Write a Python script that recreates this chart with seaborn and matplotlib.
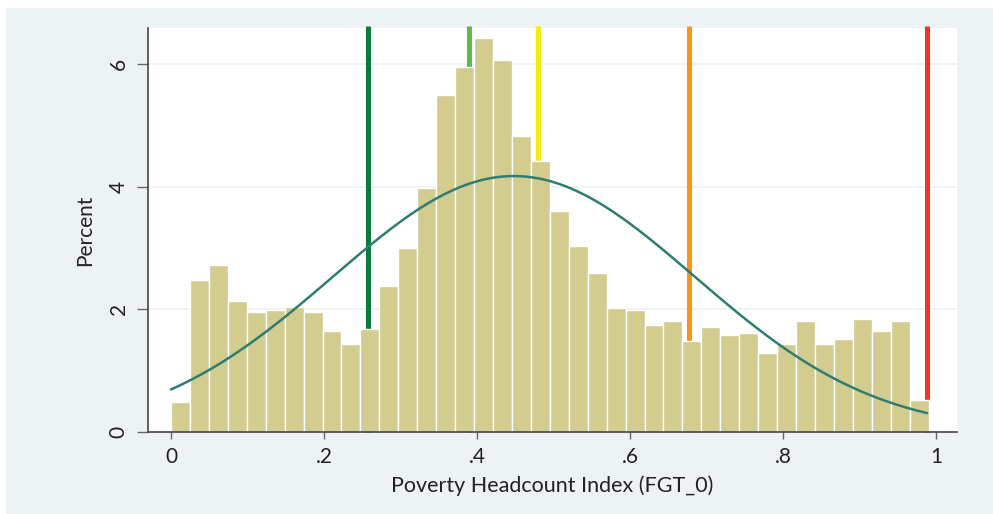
import numpy as np
import pandas as pd
import matplotlib
matplotlib.use("Agg")
import matplotlib.pyplot as plt
import seaborn as sns
from matplotlib.patches import Rectangle

# ---- data ----
bin_width = 0.02475
n_bins = 40
percent = [0.49, 2.48, 2.72, 2.14, 1.96, 1.99, 2.04, 1.96, 1.65, 1.44,
           1.68, 2.38, 3.00, 3.98, 5.50, 5.95, 6.43, 6.07, 4.83, 4.42,
           3.61, 3.03, 2.59, 2.02, 1.99, 1.75, 1.81, 1.48, 1.71, 1.58,
           1.61, 1.29, 1.44, 1.81, 1.44, 1.52, 1.84, 1.65, 1.81, 0.52]
threshold_x = [0.258, 0.389, 0.480, 0.677, 0.988]
threshold_colors = ["#0b7a3c", "#5cbd46", "#f6ea14", "#f7931e", "#ec3626"]
norm_mean = 0.448
norm_sd = 0.2365
data_min, data_max = 0.0, 0.988
xticks = [0, 0.2, 0.4, 0.6, 0.8, 1.0]
xtick_labels = ["0", ".2", ".4", ".6", ".8", "1"]
yticks = [0, 2, 4, 6]
yticklabels = ["0", "2", "4", "6"]

edges = [i * bin_width for i in range(n_bins + 1)]
centers = [(edges[i] + edges[i + 1]) / 2 for i in range(n_bins)]
df = pd.DataFrame({"x": centers, "pct": percent})

xs = np.linspace(data_min, data_max, 300)
curve = 100 * bin_width / (norm_sd * np.sqrt(2 * np.pi)) * np.exp(-0.5 * ((xs - norm_mean) / norm_sd) ** 2)
cdf = pd.DataFrame({"x": xs, "y": curve})

sns.set_style("white")
plt.rcParams["font.family"] = ["Lato", "DejaVu Sans"]

fig = plt.figure(figsize=(9.93, 5.14), dpi=100)
fig.patch.set_facecolor("white")
bg = Rectangle((6 / 993, 0), 1, 1 - 8 / 514, transform=fig.transFigure,
               facecolor="#edf2f5", edgecolor="none", zorder=-10)
fig.patches.append(bg)
ax = fig.add_axes([148 / 993, 1 - 432 / 514, (957 - 148) / 993, (432 - 28) / 514])
ax.set_zorder(1)
ax.set_facecolor("white")

for xv, c in zip(threshold_x, threshold_colors):
    ax.axvline(xv, ymin=0, ymax=1.006, color=c, lw=3.6, zorder=1, clip_on=False,
               solid_capstyle="butt")

sns.histplot(data=df, x="x", weights="pct", bins=edges, stat="count",
             color="#d2cc8f", alpha=1, edgecolor="white", linewidth=1.0, ax=ax, zorder=2)
sns.lineplot(data=cdf, x="x", y="y", color="#2e7d70", lw=1.8, ax=ax, zorder=3)

ax.set_xlim(-0.030, 1.027)
ax.set_ylim(0, 6.59)
ax.set_xticks(xticks)
ax.set_xticklabels(xtick_labels, fontsize=15, color="#222222")
ax.set_yticks(yticks)
ax.set_yticklabels(yticklabels, fontsize=15, color="#222222", rotation=90, va="center")
ax.yaxis.grid(True, color="#eef2f4", lw=1.2)
ax.set_axisbelow(True)
ax.tick_params(axis="x", length=5, width=1, color="#666666", pad=6, direction="out", bottom=True)
ax.tick_params(axis="y", length=8, width=1, color="#666666", pad=6, direction="out", left=True)
for s in ["top", "right"]:
    ax.spines[s].set_visible(False)
for s in ["left", "bottom"]:
    ax.spines[s].set_color("#444444")
    ax.spines[s].set_linewidth(1.2)
ax.set_xlabel("Poverty Headcount Index (FGT_0)", fontsize=15.5, color="#222222", labelpad=6)
ax.set_ylabel("Percent", fontsize=15, color="#222222", labelpad=10)

fig.savefig("out.png", dpi=100, facecolor=fig.get_facecolor())
